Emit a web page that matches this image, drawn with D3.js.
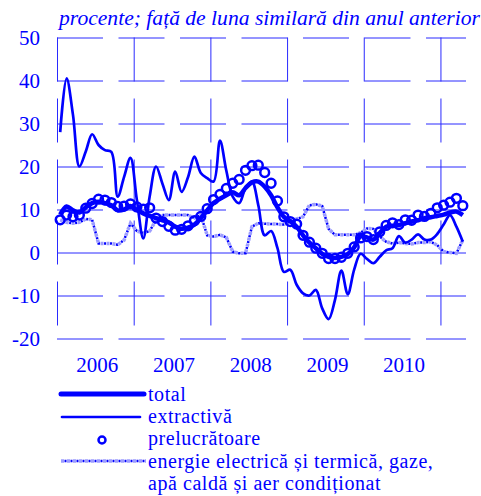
<!DOCTYPE html>
<html>
<head>
<meta charset="utf-8">
<script src="https://cdn.jsdelivr.net/npm/d3@7"></script>
<style>
  body { margin: 0; background: #fff; }
  svg { display: block; font-family: "Liberation Serif", "Times New Roman", serif; }
</style>
</head>
<body>
<svg id="chart" width="481" height="496"></svg>
<script>
"use strict";

// month index 0 = Jan 2006 ... 63 = Apr 2011
var years = ["2006", "2007", "2008", "2009", "2010"];
var yTicks = [50, 40, 30, 20, 10, 0, -10, -20];

var total = [8.8, 10.7, 9.8, 9.3, 10.5, 11.5, 11.8, 11.5, 11, 9.8, 10, 10.8,
    9.9, 9.1, 8.5, 8, 7.5, 7, 6, 5.5, 5.8, 6.5, 8, 9.8,
    11.5, 12.5, 13.3, 14, 13.3, 15, 16.3, 16.5, 15.3, 13.3, 10.5, 8.3,
    7.3, 6, 4, 2.3, 1, -0.3, -1, -1.3, -1, -0.4, 1.2, 3.8,
    3.5, 3, 4.5, 6, 6.2, 6.4, 6.8, 7.2, 7.5, 8, 8.2, 8.5,
    8.8, 9.3, 9.5, 8.7];

var extractiva = [28, 40.5, 32, 20, 23.5, 27.5, 25, 23.8, 23.4, 13, 17.6, 22,
    12.2, 3.3, 13, 20, 16, 12.2, 18.8, 14.1, 17.5, 22.3, 18.5, 17.3,
    16.5, 26, 19, 13, 11.5, 15, 16.5, 11, 4, 5, 1, -4.5,
    -4, -7.5, -9.5, -10, -8.7, -13, -15.5, -11, -4.2, -9.7, -4, -0.3,
    -1.5, -2.5, -1, 0.5, 1, 3.8, 2.3, 3, 4.2, 3, 3, 4.3,
    6.5, 8.7, 6, 2.5];

var prelucratoare = [7.6, 8.7, 8.3, 8.7, 10.3, 11.4, 12.4, 12.2, 11.6, 10.7, 10.8, 11.3,
    10.6, 10.1, 10.4, 8, 7.2, 6.1, 5.2, 5.4, 6.2, 7.4, 8.4, 10.2,
    12.3, 13.5, 14.9, 16.1, 17, 19.1, 20.2, 20.3, 18.6, 16.1, 12, 8.3,
    7.2, 6.6, 4, 2.4, 1, -0.2, -1.4, -1.4, -1.1, -0.2, 1.3, 3.4,
    3.7, 3, 4.8, 6.3, 6.9, 6.5, 7.6, 7.5, 8.7, 8.4, 9.1, 10.4,
    11, 11.7, 12.6, 10.9];

var energie = [7.6, 7, 6.8, 7, 7.8, 7.6, 2.1, 2.1, 2.1, 1.8, 2.9, 6.8,
    5, 4.5, 5, 7.5, 8.7, 8.7, 8.7, 8.7, 8.7, 8, 8.7, 4,
    3.7, 4.1, 3.5, 0.2, -0.2, -0.2, 6, 6.8, 6.7, 6.6, 6.6, 6.5,
    7.2, 7.8, 8.3, 11, 11.2, 10.8, 5.5, 4.1, 4.1, 4.1, 4.1, 4.6,
    5.6, 5.5, 3.7, 2.5, 2.1, 2.3, 2.1, 2, 2.3, 2.3, 2.5, 1.7,
    0.2, 0, -0.2, 2.9];

var legendLabels = ["total", "extractivă", "prelucrătoare",
    ["energie electrică și termică, gaze,", "apă caldă și aer condiționat"]];

var blue = "#0000ff";
var gridBlue = "#2a2aff";
var paleBlue = "#9c9cff";

var svg = d3.select("#chart");

var x = d3.scaleLinear().domain([0, 64]).range([57, 466]);
var y = d3.scaleLinear().domain([-20, 50]).range([338.5, 37.5]);

// title
svg.append("text")
    .attr("x", 59)
    .attr("y", 25)
    .attr("font-size", 21.6)
    .attr("font-style", "italic")
    .attr("fill", blue)
    .text("procente; față de luna similară din anul anterior");

// horizontal grid + y labels
var yAxis = svg.append("g")
    .attr("transform", "translate(57,0)")
    .call(d3.axisLeft(y).tickValues(yTicks)
        .tickFormat(function (d) { return String(d); })
        .tickSizeInner(-(466 - 57)).tickSizeOuter(0).tickPadding(17));
yAxis.select(".domain").remove();
yAxis.selectAll(".tick line")
    .attr("stroke", gridBlue)
    .attr("stroke-width", 1)
    .attr("stroke-dasharray", function (d) { return d === 0 ? null : "46,15.5"; });
yAxis.selectAll(".tick text")
    .attr("fill", blue)
    .attr("font-size", 21)
    .attr("font-family", "Liberation Serif, serif");

// vertical grid at year boundaries
var xAxis = svg.append("g")
    .attr("transform", "translate(0,37.5)")
    .call(d3.axisBottom(x).tickValues([0, 12, 24, 36, 48, 60])
        .tickSizeInner(338.5 - 37.5).tickSizeOuter(0).tickFormat(""));
xAxis.select(".domain").remove();
xAxis.selectAll(".tick line")
    .attr("stroke", gridBlue)
    .attr("stroke-width", 1)
    .attr("stroke-dasharray", "44,17");

// year labels
svg.append("g").selectAll("text")
    .data(years)
    .join("text")
    .attr("x", function (d, i) { return x(i * 12 + 6) + 2; })
    .attr("y", 372)
    .attr("text-anchor", "middle")
    .attr("font-size", 21)
    .attr("fill", blue)
    .text(function (d) { return d; });

function mkLine(curve) {
    return d3.line()
        .x(function (d, i) { return x(i + 0.5); })
        .y(function (d) { return y(d); })
        .curve(curve);
}

// energie: pale squares with dark dots between
svg.append("path")
    .datum(energie)
    .attr("fill", "none")
    .attr("stroke", paleBlue)
    .attr("stroke-width", 3.5)
    .attr("stroke-dasharray", "3,3")
    .attr("d", mkLine(d3.curveLinear));
svg.append("path")
    .datum(energie)
    .attr("fill", "none")
    .attr("stroke", blue)
    .attr("stroke-width", 2.5)
    .attr("stroke-dasharray", "2,4")
    .attr("stroke-dashoffset", -3.5)
    .attr("d", mkLine(d3.curveLinear));

// extractiva
svg.append("path")
    .datum(extractiva)
    .attr("fill", "none")
    .attr("stroke", blue)
    .attr("stroke-width", 2.7)
    .attr("stroke-linejoin", "round")
    .attr("d", mkLine(d3.curveCatmullRom));

// total
svg.append("path")
    .datum(total)
    .attr("fill", "none")
    .attr("stroke", blue)
    .attr("stroke-width", 4.5)
    .attr("stroke-linejoin", "round")
    .attr("d", mkLine(d3.curveCatmullRom));

// prelucratoare circles
svg.append("g").selectAll("circle")
    .data(prelucratoare)
    .join("circle")
    .attr("cx", function (d, i) { return x(i + 0.5); })
    .attr("cy", function (d) { return y(d); })
    .attr("r", 4.4)
    .attr("fill", "none")
    .attr("stroke", blue)
    .attr("stroke-width", 2.5);

// legend
var lg = svg.append("g");
var rowY = [394, 417, 440, 461];
var textY = [401, 423.2, 445.4, 467.6, 489.8];
lg.append("line").attr("x1", 61).attr("x2", 144).attr("y1", rowY[0]).attr("y2", rowY[0])
    .attr("stroke", blue).attr("stroke-width", 5).attr("stroke-linecap", "round");
lg.append("line").attr("x1", 62).attr("x2", 140).attr("y1", rowY[1]).attr("y2", rowY[1])
    .attr("stroke", blue).attr("stroke-width", 2.7).attr("stroke-linecap", "round");
lg.append("circle").attr("cx", 102).attr("cy", rowY[2]).attr("r", 3.5)
    .attr("fill", "none").attr("stroke", blue).attr("stroke-width", 2.5);
lg.append("line").attr("x1", 61).attr("x2", 146).attr("y1", rowY[3]).attr("y2", rowY[3])
    .attr("stroke", paleBlue).attr("stroke-width", 3.5).attr("stroke-dasharray", "3,3");
lg.append("line").attr("x1", 61).attr("x2", 146).attr("y1", rowY[3]).attr("y2", rowY[3])
    .attr("stroke", blue).attr("stroke-width", 2.5).attr("stroke-dasharray", "2,4").attr("stroke-dashoffset", -3.5);

var k = 0;
legendLabels.forEach(function (lab) {
    var lines = Array.isArray(lab) ? lab : [lab];
    lines.forEach(function (t) {
        lg.append("text")
            .attr("x", 148)
            .attr("y", textY[k++])
            .attr("font-size", 20)
            .attr("letter-spacing", 0.55)
            .attr("fill", blue)
            .text(t);
    });
});
</script>
</body>
</html>
